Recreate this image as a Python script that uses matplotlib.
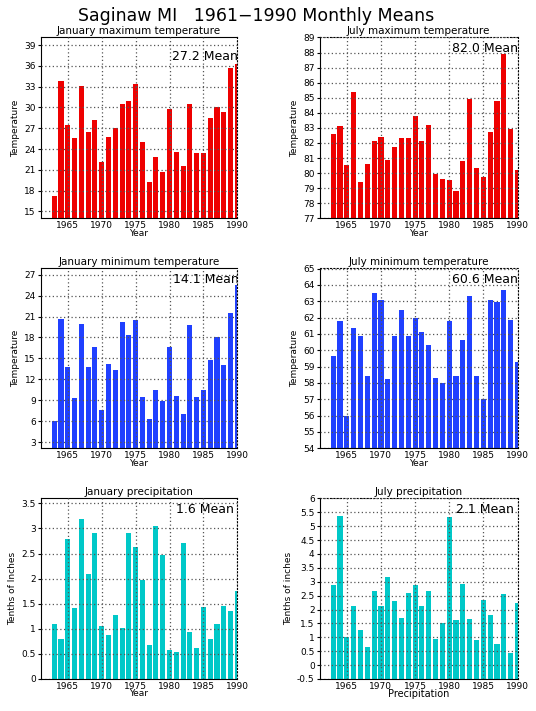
import matplotlib
matplotlib.use("Agg")
import matplotlib.pyplot as plt
import numpy as np

# years of the record (bars), 1963..1990
years = np.arange(1963, 1991)

jan_max = [17.2, 33.8, 27.4, 25.6, 33.1, 26.5, 28.2, 22.1, 25.8, 27.0,
           30.5, 31.0, 33.4, 25.0, 19.2, 22.9, 20.7, 29.8, 23.6, 21.6,
           30.5, 23.4, 23.4, 28.5, 30.1, 29.4, 35.7, 36.3]
jul_max = [82.6, 83.15, 80.55, 85.35, 79.4, 80.6, 82.15, 82.4, 80.9, 81.75,
           82.3, 82.3, 83.8, 82.15, 83.2, 79.95, 79.6, 79.55, 78.8, 80.8,
           84.95, 80.35, 79.75, 82.75, 84.8, 87.9, 82.95, 80.2]
jan_min = [5.95, 20.6, 13.8, 9.25, 19.9, 13.8, 16.65, 7.55, 14.25, 13.35,
           20.2, 18.3, 20.5, 9.5, 6.35, 10.4, 8.85, 16.7, 9.65, 7.05,
           19.75, 9.4, 10.4, 14.8, 18.0, 14.0, 21.5, 25.5]
jul_min = [59.67, 61.8, 55.96, 61.33, 60.84, 58.45, 63.53, 63.1, 58.22, 60.84,
           62.47, 60.84, 61.98, 61.14, 60.35, 58.33, 57.98, 61.8, 58.45, 60.6,
           63.3, 58.45, 57.04, 63.1, 62.98, 63.7, 61.86, 59.25]
jan_pcp = [1.10, 0.80, 2.79, 1.42, 3.19, 2.10, 2.91, 1.06, 0.88, 1.28,
           1.02, 2.91, 2.63, 1.98, 0.68, 3.05, 2.47, 0.58, 0.54, 2.71,
           0.94, 0.62, 1.44, 0.80, 1.10, 1.46, 1.36, 1.76]
jul_pcp = [2.87, 5.36, 1.02, 2.11, 1.28, 0.66, 2.65, 2.11, 3.16, 2.29,
           1.71, 2.58, 2.87, 2.14, 2.65, 0.95, 1.53, 5.33, 1.64, 2.90,
           1.67, 0.92, 2.33, 1.82, 0.77, 2.54, 0.45, 2.25]

means = ["27.2", "82.0", "14.1", "60.6", "1.6", "2.1"]
titles = ["January maximum temperature", "July maximum temperature",
          "January minimum temperature", "July minimum temperature",
          "January precipitation", "July precipitation"]
ylabels = ["Temperature", "Temperature", "Temperature", "Temperature",
           "Tenths of Inches", "Tenths of inches"]
xlabels = ["Year", "Year", "Year", "Year", "Year", "Precipitation"]
xticks = [1965, 1970, 1975, 1980, 1985, 1990]

red = "#ee0000"
blue = "#2040ff"
cyan = "#00c8c8"

panels = [
    (jan_max, red, (14.0, 40.1), np.arange(15, 40, 3), None),
    (jul_max, red, (77, 89), np.arange(77, 90, 1), None),
    (jan_min, blue, (2.1, 27.9), np.arange(3, 28, 3), None),
    (jul_min, blue, (54, 65), np.arange(54, 66, 1), None),
    (jan_pcp, cyan, (0, 3.6), np.arange(0, 3.6, 0.5), ["0", "0.5", "1", "1.5", "2", "2.5", "3", "3.5"]),
    (jul_pcp, cyan, (-0.5, 6), np.arange(-0.5, 6.1, 0.5),
     ["-0.5", "0", "0.5", "1", "1.5", "2", "2.5", "3", "3.5", "4", "4.5", "5", "5.5", "6"]),
]

# axes boxes, in pixels (left, top, right, bottom)
W, H = 536, 711
boxes = [(40.7, 37.5, 237.3, 218.3), (319.5, 37.5, 517.5, 218.3),
         (40.7, 268.5, 237.3, 448.3), (319.5, 268.5, 517.5, 448.3),
         (40.7, 498.3, 237.3, 679.0), (319.5, 498.3, 517.5, 679.0)]
mean_pos = [(0.669, 0.895), (0.67, 0.94), (0.671, 0.94), (0.67, 0.94), (0.69, 0.94), (0.687, 0.94)]

fig = plt.figure(figsize=(W / 100, H / 100), dpi=100)
fig.text(0.478, 0.977, "Saginaw MI   1961\u22121990 Monthly Means", ha="center", va="center",
         fontsize=12.5, color="black")

for i, (vals, col, ylim, yt, ytl) in enumerate(panels):
    l, t, r, b = boxes[i]
    ax = fig.add_axes([l / W, 1 - b / H, (r - l) / W, (b - t) / H])
    ax.bar(years, np.array(vals) - ylim[0], bottom=ylim[0], width=0.75, color=col, zorder=1)
    ax.set_xlim(1961, 1990)
    ax.set_ylim(*ylim)
    ax.set_xticks(xticks)
    ax.set_yticks(yt)
    if ytl is not None:
        ax.set_yticklabels(ytl)
    ax.grid(True, color="#555555", linestyle=(0, (1, 2)), linewidth=0.9, zorder=2)
    ax.set_axisbelow(False)
    ax.tick_params(labelsize=6.5, length=2, pad=1.5)
    ax.tick_params(axis="x", length=0, pad=2)
    ax.spines["right"].set_linestyle((0, (1, 2)))
    if i % 2 == 1:
        ax.spines["top"].set_linestyle((0, (1, 2)))
    ax.set_title(titles[i], fontsize=7.5, pad=2.5)
    ax.set_ylabel(ylabels[i], fontsize=6.5, labelpad=3)
    ax.set_xlabel(xlabels[i], fontsize=6.5 if i < 5 else 7, labelpad=-1)
    ax.text(mean_pos[i][0], mean_pos[i][1], means[i] + " Mean", transform=ax.transAxes,
            ha="left", va="center", fontsize=9, clip_on=True)

fig.savefig("out.png", dpi=100)
